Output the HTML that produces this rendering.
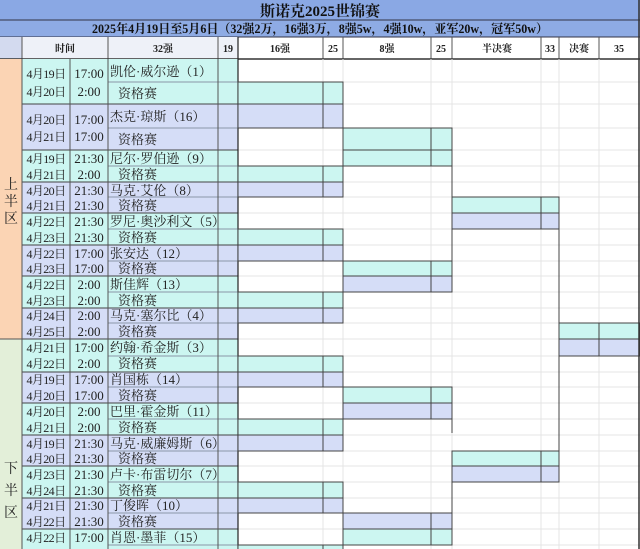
<!DOCTYPE html>
<html><head><meta charset="utf-8"><style>
html,body{margin:0;padding:0;background:#fff;}
svg{display:block;}
text{font-family:"Liberation Serif","Noto Serif CJK SC",serif;}
.d{font-size:12px;letter-spacing:-0.6px;text-anchor:middle;fill:#222;}
.t{font-size:13px;text-anchor:middle;fill:#222;}
.n{font-size:13px;fill:#222;}
.h{font-size:10px;font-weight:bold;text-anchor:middle;fill:#222;}
</style></head><body>
<svg width="640" height="549" viewBox="0 0 640 549" xmlns="http://www.w3.org/2000/svg">
<rect x="0" y="0" width="640" height="549" fill="#fff"/>
<rect x="0" y="0" width="640" height="20" fill="#8aa8e4"/>
<rect x="0" y="20" width="640" height="17" fill="#8eabe4"/>
<line x1="0" y1="20" x2="640" y2="20" stroke="#334" stroke-width="1"/>
<line x1="0" y1="37" x2="640" y2="37" stroke="#334" stroke-width="1"/>
<text x="320" y="16" font-size="15" font-weight="bold" text-anchor="middle" fill="#111">斯诺克2025世锦赛</text>
<text x="320" y="33" font-size="12.5" font-weight="bold" text-anchor="middle" fill="#111" textLength="456" lengthAdjust="spacingAndGlyphs">2025年4月19日至5月6日（32强2万，16强3万，8强5w，4强10w，亚军20w，冠军50w）</text>
<rect x="0" y="37" width="22" height="22" fill="#d3daef"/>
<rect x="22" y="37" width="216" height="22" fill="#eef1f8"/>
<g stroke="#555" stroke-width="1">
<line x1="22" y1="37" x2="22" y2="59"/><line x1="108" y1="37" x2="108" y2="59"/>
<line x1="218" y1="37" x2="218" y2="59"/><line x1="238" y1="37" x2="238" y2="59"/>
<line x1="323" y1="37" x2="323" y2="59"/><line x1="343" y1="37" x2="343" y2="59"/>
<line x1="431" y1="37" x2="431" y2="59"/><line x1="452" y1="37" x2="452" y2="59"/>
<line x1="541" y1="37" x2="541" y2="59"/><line x1="559" y1="37" x2="559" y2="59"/>
<line x1="599" y1="37" x2="599" y2="59"/>
</g>
<text class="h" x="65" y="52">时间</text>
<text class="h" x="163" y="52">32强</text>
<text class="h" x="228" y="52">19</text>
<text class="h" x="280" y="52">16强</text>
<text class="h" x="333" y="52">25</text>
<text class="h" x="387" y="52">8强</text>
<text class="h" x="441" y="52">25</text>
<text class="h" x="497" y="52">半决赛</text>
<text class="h" x="550" y="52">33</text>
<text class="h" x="579" y="52">决赛</text>
<text class="h" x="619" y="52">35</text>
<line x1="0" y1="59" x2="640" y2="59" stroke="#333" stroke-width="1.5"/>

<g stroke="#e4e4e4" stroke-width="1">
<line x1="323" y1="59" x2="323" y2="549"/><line x1="343" y1="59" x2="343" y2="549"/>
<line x1="431" y1="59" x2="431" y2="549"/><line x1="452" y1="59" x2="452" y2="549"/>
<line x1="541" y1="59" x2="541" y2="549"/><line x1="559" y1="59" x2="559" y2="549"/>
<line x1="599" y1="59" x2="599" y2="549"/>
<line x1="238" y1="82" x2="640" y2="82"/><line x1="238" y1="104" x2="640" y2="104"/>
<line x1="238" y1="128" x2="640" y2="128"/><line x1="238" y1="150" x2="640" y2="150"/>
<line x1="238" y1="166" x2="640" y2="166"/><line x1="238" y1="182" x2="640" y2="182"/>
<line x1="238" y1="197" x2="640" y2="197"/><line x1="238" y1="213" x2="640" y2="213"/>
<line x1="238" y1="229" x2="640" y2="229"/><line x1="238" y1="245" x2="640" y2="245"/>
<line x1="238" y1="261" x2="640" y2="261"/><line x1="238" y1="276" x2="640" y2="276"/>
<line x1="238" y1="292" x2="640" y2="292"/><line x1="238" y1="308" x2="640" y2="308"/>
<line x1="238" y1="323" x2="640" y2="323"/><line x1="238" y1="339" x2="640" y2="339"/>
<line x1="238" y1="356" x2="640" y2="356"/><line x1="238" y1="372" x2="640" y2="372"/>
<line x1="238" y1="387" x2="640" y2="387"/><line x1="238" y1="403" x2="640" y2="403"/>
<line x1="238" y1="419" x2="640" y2="419"/><line x1="238" y1="435" x2="640" y2="435"/>
<line x1="238" y1="451" x2="640" y2="451"/><line x1="238" y1="466" x2="640" y2="466"/>
<line x1="238" y1="482" x2="640" y2="482"/><line x1="238" y1="498" x2="640" y2="498"/>
<line x1="238" y1="513" x2="640" y2="513"/><line x1="238" y1="529" x2="640" y2="529"/>
<line x1="238" y1="545" x2="640" y2="545"/>
</g>

<rect x="0" y="59" width="22" height="280" fill="#fbd4b4"/>
<rect x="0" y="339" width="22" height="210" fill="#e3efd9"/>
<line x1="0" y1="339" x2="22" y2="339" stroke="#555"/>
<text x="11" y="189" font-size="14" text-anchor="middle" fill="#222">上</text>
<text x="11" y="206" font-size="14" text-anchor="middle" fill="#222">半</text>
<text x="11" y="223" font-size="14" text-anchor="middle" fill="#222">区</text>
<text x="11" y="473" font-size="14" text-anchor="middle" fill="#222">下</text>
<text x="11" y="495" font-size="14" text-anchor="middle" fill="#222">半</text>
<text x="11" y="517" font-size="14" text-anchor="middle" fill="#222">区</text>

<g>
<rect x="22" y="59" width="216" height="45" fill="#ccf6f1"/>
<rect x="22" y="104" width="216" height="46" fill="#d5ddf7"/>
<rect x="22" y="150" width="216" height="32" fill="#ccf6f1"/>
<rect x="22" y="182" width="216" height="31" fill="#d5ddf7"/>
<rect x="22" y="213" width="216" height="32" fill="#ccf6f1"/>
<rect x="22" y="245" width="216" height="31" fill="#d5ddf7"/>
<rect x="22" y="276" width="216" height="32" fill="#ccf6f1"/>
<rect x="22" y="308" width="216" height="31" fill="#d5ddf7"/>
<rect x="22" y="339" width="216" height="33" fill="#ccf6f1"/>
<rect x="22" y="372" width="216" height="31" fill="#d5ddf7"/>
<rect x="22" y="403" width="216" height="32" fill="#ccf6f1"/>
<rect x="22" y="435" width="216" height="31" fill="#d5ddf7"/>
<rect x="22" y="466" width="216" height="32" fill="#ccf6f1"/>
<rect x="22" y="498" width="216" height="31" fill="#d5ddf7"/>
<rect x="22" y="529" width="216" height="20" fill="#ccf6f1"/>
</g>
<g stroke="#8a97a8" stroke-width="1">
<line x1="108" y1="82" x2="238" y2="82"/><line x1="108" y1="128" x2="238" y2="128"/>
<line x1="108" y1="166" x2="238" y2="166"/><line x1="108" y1="197" x2="238" y2="197"/>
<line x1="108" y1="229" x2="238" y2="229"/><line x1="108" y1="261" x2="238" y2="261"/>
<line x1="108" y1="292" x2="238" y2="292"/><line x1="108" y1="323" x2="238" y2="323"/>
<line x1="108" y1="356" x2="238" y2="356"/><line x1="108" y1="387" x2="238" y2="387"/>
<line x1="108" y1="419" x2="238" y2="419"/><line x1="108" y1="451" x2="238" y2="451"/>
<line x1="108" y1="482" x2="238" y2="482"/><line x1="108" y1="513" x2="238" y2="513"/>
<line x1="108" y1="545" x2="238" y2="545"/>
</g>
<g stroke="#444" stroke-width="1">
<line x1="22" y1="104" x2="238" y2="104"/><line x1="22" y1="150" x2="238" y2="150"/>
<line x1="22" y1="182" x2="238" y2="182"/><line x1="22" y1="213" x2="238" y2="213"/>
<line x1="22" y1="245" x2="238" y2="245"/><line x1="22" y1="276" x2="238" y2="276"/>
<line x1="22" y1="308" x2="238" y2="308"/><line x1="22" y1="339" x2="238" y2="339"/>
<line x1="22" y1="372" x2="238" y2="372"/><line x1="22" y1="403" x2="238" y2="403"/>
<line x1="22" y1="435" x2="238" y2="435"/><line x1="22" y1="466" x2="238" y2="466"/>
<line x1="22" y1="498" x2="238" y2="498"/><line x1="22" y1="529" x2="238" y2="529"/>
</g>
<g stroke="#555" stroke-width="1">
<line x1="22" y1="59" x2="22" y2="549"/>
<line x1="70" y1="59" x2="70" y2="549"/>
<line x1="108" y1="59" x2="108" y2="549"/>
<line x1="218" y1="59" x2="218" y2="549"/>
</g>
<line x1="238" y1="37" x2="238" y2="549" stroke="#222" stroke-width="1.2"/>

<g>
<text class="d" x="46" y="78">4月19日</text><text class="t" x="89" y="78">17:00</text><text class="n" x="110" y="76">凯伦·威尔逊（1）</text>
<text class="d" x="46" y="96">4月20日</text><text class="t" x="89" y="96">2:00</text><text class="n" x="118" y="98">资格赛</text>
<text class="d" x="46" y="124">4月20日</text><text class="t" x="89" y="124">17:00</text><text class="n" x="110" y="121">杰克·琼斯（16）</text>
<text class="d" x="46" y="141">4月21日</text><text class="t" x="89" y="141">17:00</text><text class="n" x="118" y="144">资格赛</text>
<text class="d" x="46" y="163">4月19日</text><text class="t" x="89" y="163">21:30</text><text class="n" x="110" y="163">尼尔·罗伯逊（9）</text>
<text class="d" x="46" y="179">4月21日</text><text class="t" x="89" y="179">2:00</text><text class="n" x="118" y="179">资格赛</text>
<text class="d" x="46" y="195">4月20日</text><text class="t" x="89" y="195">21:30</text><text class="n" x="110" y="195">马克·艾伦（8）</text>
<text class="d" x="46" y="210">4月21日</text><text class="t" x="89" y="210">21:30</text><text class="n" x="118" y="210">资格赛</text>
<text class="d" x="46" y="226">4月22日</text><text class="t" x="89" y="226">21:30</text><text class="n" x="110" y="226">罗尼·奥沙利文（5）</text>
<text class="d" x="46" y="242">4月23日</text><text class="t" x="89" y="242">21:30</text><text class="n" x="118" y="242">资格赛</text>
<text class="d" x="46" y="258">4月22日</text><text class="t" x="89" y="258">17:00</text><text class="n" x="110" y="258">张安达（12）</text>
<text class="d" x="46" y="273">4月23日</text><text class="t" x="89" y="273">17:00</text><text class="n" x="118" y="273">资格赛</text>
<text class="d" x="46" y="289">4月22日</text><text class="t" x="89" y="289">2:00</text><text class="n" x="110" y="289">斯佳辉（13）</text>
<text class="d" x="46" y="305">4月23日</text><text class="t" x="89" y="305">2:00</text><text class="n" x="118" y="305">资格赛</text>
<text class="d" x="46" y="320">4月24日</text><text class="t" x="89" y="320">2:00</text><text class="n" x="110" y="320">马克·塞尔比（4）</text>
<text class="d" x="46" y="336">4月25日</text><text class="t" x="89" y="336">2:00</text><text class="n" x="118" y="336">资格赛</text>
<text class="d" x="46" y="352">4月21日</text><text class="t" x="89" y="352">17:00</text><text class="n" x="110" y="352">约翰·希金斯（3）</text>
<text class="d" x="46" y="368">4月22日</text><text class="t" x="89" y="368">2:00</text><text class="n" x="118" y="368">资格赛</text>
<text class="d" x="46" y="384">4月19日</text><text class="t" x="89" y="384">17:00</text><text class="n" x="110" y="384">肖国栋（14）</text>
<text class="d" x="46" y="400">4月20日</text><text class="t" x="89" y="400">17:00</text><text class="n" x="118" y="400">资格赛</text>
<text class="d" x="46" y="416">4月20日</text><text class="t" x="89" y="416">2:00</text><text class="n" x="110" y="416">巴里·霍金斯（11）</text>
<text class="d" x="46" y="432">4月21日</text><text class="t" x="89" y="432">2:00</text><text class="n" x="118" y="432">资格赛</text>
<text class="d" x="46" y="448">4月19日</text><text class="t" x="89" y="448">21:30</text><text class="n" x="110" y="448">马克·威廉姆斯（6）</text>
<text class="d" x="46" y="463">4月20日</text><text class="t" x="89" y="463">21:30</text><text class="n" x="118" y="463">资格赛</text>
<text class="d" x="46" y="479">4月23日</text><text class="t" x="89" y="479">21:30</text><text class="n" x="110" y="479">卢卡·布雷切尔（7）</text>
<text class="d" x="46" y="495">4月24日</text><text class="t" x="89" y="495">21:30</text><text class="n" x="118" y="495">资格赛</text>
<text class="d" x="46" y="510">4月21日</text><text class="t" x="89" y="510">21:30</text><text class="n" x="110" y="510">丁俊晖（10）</text>
<text class="d" x="46" y="526">4月22日</text><text class="t" x="89" y="526">21:30</text><text class="n" x="118" y="526">资格赛</text>
<text class="d" x="46" y="542">4月22日</text><text class="t" x="89" y="542">17:00</text><text class="n" x="110" y="542">肖恩·墨菲（15）</text>
</g>

<g stroke="#444" stroke-width="1">
<rect x="238" y="82" width="105" height="22" fill="#ccf6f1"/><rect x="238" y="104" width="105" height="24" fill="#d5ddf7"/>
<rect x="238" y="166" width="105" height="16" fill="#ccf6f1"/><rect x="238" y="182" width="105" height="15" fill="#d5ddf7"/>
<rect x="238" y="229" width="105" height="16" fill="#ccf6f1"/><rect x="238" y="245" width="105" height="16" fill="#d5ddf7"/>
<rect x="238" y="292" width="105" height="16" fill="#ccf6f1"/><rect x="238" y="308" width="105" height="15" fill="#d5ddf7"/>
<rect x="238" y="356" width="105" height="16" fill="#ccf6f1"/><rect x="238" y="372" width="105" height="15" fill="#d5ddf7"/>
<rect x="238" y="419" width="105" height="16" fill="#ccf6f1"/><rect x="238" y="435" width="105" height="16" fill="#d5ddf7"/>
<rect x="238" y="482" width="105" height="16" fill="#ccf6f1"/><rect x="238" y="498" width="105" height="15" fill="#d5ddf7"/>
<rect x="238" y="545" width="105" height="16" fill="#ccf6f1"/>
<line x1="323" y1="82" x2="323" y2="128"/><line x1="323" y1="166" x2="323" y2="197"/>
<line x1="323" y1="229" x2="323" y2="261"/><line x1="323" y1="292" x2="323" y2="323"/>
<line x1="323" y1="356" x2="323" y2="387"/><line x1="323" y1="419" x2="323" y2="451"/>
<line x1="323" y1="482" x2="323" y2="513"/><line x1="323" y1="545" x2="323" y2="549"/>
<rect x="343" y="128" width="109" height="22" fill="#ccf6f1"/><rect x="343" y="150" width="109" height="16" fill="#ccf6f1"/>
<rect x="343" y="261" width="109" height="15" fill="#ccf6f1"/><rect x="343" y="276" width="109" height="16" fill="#d5ddf7"/>
<rect x="343" y="387" width="109" height="16" fill="#ccf6f1"/><rect x="343" y="403" width="109" height="16" fill="#d5ddf7"/>
<rect x="343" y="513" width="109" height="16" fill="#d5ddf7"/><rect x="343" y="529" width="109" height="16" fill="#ccf6f1"/>
<line x1="431" y1="128" x2="431" y2="166"/><line x1="431" y1="261" x2="431" y2="292"/>
<line x1="431" y1="387" x2="431" y2="419"/><line x1="431" y1="513" x2="431" y2="545"/>
<rect x="452" y="197" width="107" height="16" fill="#ccf6f1"/><rect x="452" y="213" width="107" height="16" fill="#d5ddf7"/>
<rect x="452" y="451" width="107" height="15" fill="#ccf6f1"/><rect x="452" y="466" width="107" height="16" fill="#d5ddf7"/>
<line x1="541" y1="197" x2="541" y2="229"/><line x1="541" y1="451" x2="541" y2="482"/>
<rect x="559" y="323" width="81" height="16" fill="#ccf6f1"/><rect x="559" y="339" width="81" height="17" fill="#d5ddf7"/>
<line x1="599" y1="323" x2="599" y2="356"/>
<line x1="343" y1="82" x2="343" y2="197"/><line x1="343" y1="229" x2="343" y2="323"/>
<line x1="343" y1="356" x2="343" y2="451"/><line x1="343" y1="482" x2="343" y2="549"/>
<line x1="452" y1="166" x2="452" y2="292"/><line x1="452" y1="387" x2="452" y2="433"/>
<line x1="452" y1="451" x2="452" y2="545"/>
<line x1="559" y1="229" x2="559" y2="323"/><line x1="559" y1="356" x2="559" y2="451"/>
</g>
<line x1="639" y1="0" x2="639" y2="549" stroke="#333" stroke-width="1.5"/>
</svg>
</body></html>
